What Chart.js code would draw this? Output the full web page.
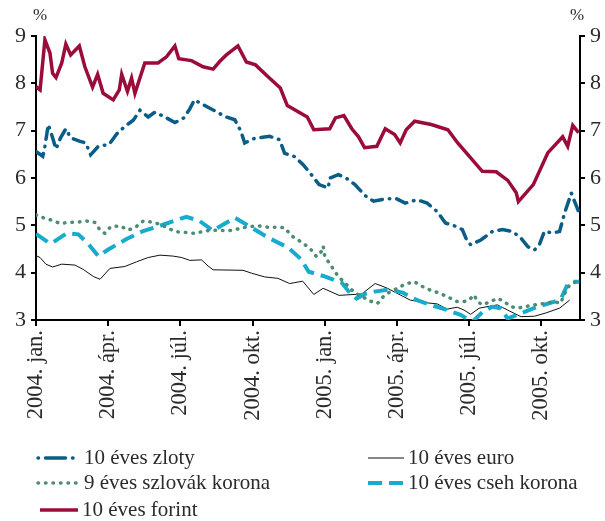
<!DOCTYPE html>
<html>
<head>
<meta charset="utf-8">
<script src="https://cdn.jsdelivr.net/npm/chart.js@4/dist/chart.umd.min.js"></script>
<style>
  html, body { margin: 0; padding: 0; background: #fff; }
  #wrap { width: 605px; height: 521px; }
</style>
</head>
<body>
<div id="wrap"><canvas id="chart" width="605" height="521"></canvas></div>
<script>
// x values are months counted from 2004 jan. (0) ; y values in %
const xTickLabels = ['2004. jan.', '2004. ápr.', '2004. júl.', '2004. okt.', '2005. jan.', '2005. ápr.', '2005. júl.', '2005. okt.'];
const yTickLabels = ['3', '4', '5', '6', '7', '8', '9'];

const forintX = [0.00, 0.17, 0.37, 0.58, 0.69, 0.83, 1.07, 1.24, 1.44, 1.80, 2.03, 2.35, 2.56, 2.79, 3.21, 3.46, 3.56, 3.80, 3.97, 4.11, 4.52, 5.07, 5.42, 5.77, 5.93, 6.46, 6.94, 7.36, 7.63, 7.91, 8.39, 8.74, 9.12, 9.64, 10.15, 10.44, 11.27, 11.54, 12.20, 12.44, 12.79, 13.12, 13.40, 13.65, 14.16, 14.51, 14.90, 15.13, 15.38, 15.73, 16.42, 17.11, 17.52, 18.54, 19.12, 19.60, 19.95, 20.04, 20.66, 21.26, 21.88, 22.09, 22.30, 22.54];
const forintY = [7.93, 7.86, 8.92, 8.64, 8.21, 8.12, 8.43, 8.83, 8.60, 8.79, 8.35, 7.92, 8.19, 7.79, 7.65, 7.86, 8.19, 7.83, 8.11, 7.79, 8.43, 8.43, 8.56, 8.79, 8.52, 8.48, 8.35, 8.30, 8.46, 8.60, 8.79, 8.45, 8.39, 8.14, 7.90, 7.53, 7.29, 7.02, 7.04, 7.27, 7.32, 7.04, 6.87, 6.64, 6.67, 7.04, 6.92, 6.74, 7.02, 7.20, 7.13, 7.02, 6.74, 6.14, 6.13, 5.95, 5.69, 5.50, 5.86, 6.53, 6.87, 6.67, 7.11, 6.96];

const zlotyX = [0.00, 0.28, 0.37, 0.51, 0.69, 0.83, 1.02, 1.24, 1.44, 1.80, 2.07, 2.27, 2.59, 3.04, 3.37, 3.69, 4.04, 4.32, 4.66, 4.94, 5.35, 5.77, 6.14, 6.39, 6.58, 7.01, 7.50, 7.84, 8.26, 8.51, 8.67, 9.09, 9.71, 10.12, 10.33, 10.75, 11.10, 11.44, 11.76, 12.14, 12.21, 12.56, 12.88, 13.25, 13.67, 14.02, 14.51, 14.98, 15.34, 15.83, 16.25, 16.67, 17.01, 17.43, 17.71, 17.92, 18.06, 18.48, 18.96, 19.38, 19.80, 20.15, 20.43, 20.71, 20.91, 21.12, 21.47, 21.75, 21.96, 22.24, 22.51, 22.57];
const zlotyY = [6.56, 6.46, 6.67, 7.13, 6.85, 6.61, 6.85, 7.04, 6.85, 6.78, 6.74, 6.49, 6.67, 6.71, 6.94, 7.09, 7.22, 7.43, 7.29, 7.39, 7.29, 7.17, 7.27, 7.46, 7.65, 7.53, 7.40, 7.30, 7.23, 6.99, 6.74, 6.84, 6.88, 6.81, 6.52, 6.45, 6.28, 6.07, 5.86, 5.79, 6.00, 6.07, 6.00, 5.86, 5.63, 5.51, 5.56, 5.56, 5.47, 5.54, 5.47, 5.29, 5.05, 4.98, 4.91, 4.66, 4.59, 4.69, 4.87, 4.91, 4.87, 4.73, 4.55, 4.48, 4.59, 4.87, 4.84, 4.87, 5.26, 5.68, 5.33, 5.25];

const euroX = [0.00, 0.17, 0.41, 0.69, 1.07, 1.62, 1.96, 2.38, 2.66, 3.07, 3.69, 4.18, 4.66, 5.15, 5.70, 6.05, 6.39, 6.88, 7.15, 7.36, 8.60, 8.95, 9.50, 10.05, 10.54, 11.08, 11.54, 11.93, 12.59, 13.53, 14.09, 14.56, 15.13, 15.55, 16.11, 16.67, 17.08, 17.50, 17.78, 18.06, 18.41, 18.83, 19.17, 19.59, 20.15, 20.71, 21.19, 21.75, 22.17];
const euroY = [4.36, 4.32, 4.18, 4.12, 4.18, 4.16, 4.07, 3.92, 3.86, 4.09, 4.13, 4.23, 4.32, 4.37, 4.35, 4.32, 4.26, 4.27, 4.14, 4.06, 4.05, 3.99, 3.91, 3.88, 3.77, 3.82, 3.54, 3.67, 3.52, 3.55, 3.77, 3.68, 3.53, 3.42, 3.37, 3.34, 3.23, 3.27, 3.21, 3.12, 3.25, 3.29, 3.32, 3.21, 3.07, 3.08, 3.15, 3.25, 3.42];

const skkX = [0.00, 0.30, 0.65, 1.00, 1.34, 1.76, 2.10, 2.45, 2.66, 2.86, 3.10, 3.49, 3.83, 4.11, 4.45, 4.80, 5.17, 5.56, 5.90, 6.25, 6.60, 6.94, 7.29, 7.63, 8.05, 8.46, 8.81, 9.22, 9.64, 9.99, 10.33, 10.61, 10.95, 11.37, 11.65, 11.86, 11.93, 12.00, 12.28, 12.49, 12.70, 12.98, 13.25, 13.60, 13.88, 14.19, 14.44, 14.72, 15.06, 15.34, 15.72, 16.04, 16.39, 16.80, 17.22, 17.50, 17.78, 17.99, 18.20, 18.34, 18.55, 18.89, 19.17, 19.45, 19.73, 20.01, 20.29, 20.71, 21.12, 21.54, 21.79, 21.96, 22.17, 22.44, 22.57];
const skkY = [5.22, 5.16, 5.11, 5.04, 5.06, 5.07, 5.09, 5.06, 4.90, 4.83, 4.97, 4.99, 4.90, 4.95, 5.09, 5.07, 5.02, 4.92, 4.86, 4.85, 4.83, 4.87, 4.90, 4.89, 4.89, 4.93, 4.97, 4.99, 4.96, 4.96, 4.95, 4.78, 4.67, 4.52, 4.34, 4.45, 4.56, 4.34, 4.13, 3.97, 3.85, 3.71, 3.57, 3.48, 3.40, 3.35, 3.50, 3.60, 3.68, 3.76, 3.81, 3.71, 3.63, 3.56, 3.46, 3.39, 3.39, 3.42, 3.53, 3.39, 3.32, 3.39, 3.46, 3.39, 3.28, 3.25, 3.28, 3.32, 3.35, 3.39, 3.35, 3.56, 3.74, 3.81, 3.85];

const czkX = [0.00, 0.51, 0.65, 1.27, 1.76, 2.17, 2.59, 3.00, 3.76, 4.45, 5.15, 5.84, 6.25, 6.80, 7.34, 8.26, 8.67, 9.64, 10.47, 11.00, 11.33, 11.99, 12.70, 13.07, 13.32, 13.65, 14.07, 14.65, 15.23, 15.83, 16.39, 17.08, 17.64, 18.13, 18.55, 18.96, 19.31, 19.59, 20.15, 20.84, 21.54, 21.82, 22.10, 22.31, 22.57];
const czkY = [4.82, 4.64, 4.62, 4.83, 4.81, 4.61, 4.35, 4.49, 4.71, 4.88, 4.99, 5.11, 5.18, 5.09, 4.89, 5.16, 5.04, 4.74, 4.53, 4.29, 4.02, 3.92, 3.79, 3.55, 3.45, 3.55, 3.60, 3.64, 3.58, 3.42, 3.32, 3.21, 3.11, 2.96, 3.17, 3.28, 3.25, 3.03, 3.14, 3.28, 3.39, 3.46, 3.77, 3.81, 3.81];

const FONT = 'Liberation Serif';
const TEXT = '#2b2b2b';
const pts = (xs, ys) => xs.map((x, i) => ({ x: x, y: ys[i] }));

const datasets = [
  { label: '10 éves forint', data: pts(forintX, forintY), borderColor: '#9b0c38', borderWidth: 3.5, borderDash: [], legendDash: [] },
  { label: '10 éves zloty', data: pts(zlotyX, zlotyY), borderColor: '#0a5d86', borderWidth: 3.5, borderDash: [11, 7, 0.5, 7], borderCapStyle: 'round', legendDash: [0.5, 7, 20, 7, 0.5, 20] },
  { label: '9 éves szlovák korona', data: pts(skkX, skkY), borderColor: '#4b8d70', borderWidth: 3.5, borderDash: [0.5, 7], borderCapStyle: 'round', legendDash: [0.5, 7] },
  { label: '10 éves cseh korona', data: pts(czkX, czkY), borderColor: '#17abcd', borderWidth: 4, borderDash: [14, 7], legendDash: [14, 7] },
  { label: '10 éves euro', data: pts(euroX, euroY), borderColor: '#111', borderWidth: 1, borderDash: [], legendDash: [] },
];
datasets.forEach(d => { d.pointRadius = 0; d.tension = 0; d.fill = false; });

// legend slots: dataset index, sample start x, sample end x, y
const legendSlots = [
  [1, 38, 80, 458], [4, 368, 404, 458],
  [2, 38, 80, 483], [3, 368, 404, 483],
  [0, 40, 78, 510],
];

const extras = {
  id: 'extras',
  afterDraw(chart) {
    const ctx = chart.ctx;
    ctx.save();
    ctx.fillStyle = TEXT;
    ctx.font = '17px "' + FONT + '"';
    ctx.textAlign = 'center';
    ctx.textBaseline = 'middle';
    ctx.fillText('%', 40, 16);
    ctx.fillText('%', 577, 16);
    ctx.font = '21px "' + FONT + '"';
    ctx.textAlign = 'left';
    legendSlots.forEach(([i, x0, x1, y]) => {
      const ds = chart.data.datasets[i];
      ctx.beginPath();
      ctx.strokeStyle = ds.borderColor;
      ctx.lineWidth = ds.borderWidth;
      ctx.lineCap = ds.borderCapStyle || 'butt';
      ctx.setLineDash(ds.legendDash);
      ctx.moveTo(x0, y);
      ctx.lineTo(x1, y);
      ctx.stroke();
      ctx.setLineDash([]);
      ctx.fillText(ds.label, x1 + 4, y);
    });
    ctx.restore();
  }
};

const yAxis = (pos, w) => ({
  position: pos,
  min: 3,
  max: 9,
  border: { display: true, color: '#000', width: 2 },
  grid: { drawOnChartArea: false, drawTicks: true, tickLength: 5, color: '#000', lineWidth: 2 },
  ticks: { stepSize: 1, color: TEXT, font: { family: FONT, size: 22 }, padding: 5,
           callback: v => yTickLabels[v - 3] },
  afterFit: s => { s.width = w; },
});

new Chart(document.getElementById('chart'), {
  type: 'line',
  data: { datasets: datasets },
  options: {
    responsive: false,
    animation: false,
    devicePixelRatio: 1,
    layout: { padding: { top: 36, left: 0, right: 0, bottom: 0 } },
    plugins: { legend: { display: false }, tooltip: { enabled: false } },
    scales: {
      x: {
        type: 'linear',
        position: 'bottom',
        min: 0,
        max: 22.6,
        border: { display: true, color: '#000', width: 2 },
        grid: { drawOnChartArea: false, tickLength: 6, color: '#000', lineWidth: 2 },
        ticks: {
          stepSize: 3, includeBounds: false, autoSkip: false,
          minRotation: 90, maxRotation: 90, padding: 4,
          color: TEXT, font: { family: FONT, size: 22.5 },
          callback: v => xTickLabels[Math.round(v / 3)],
        },
        afterFit: s => { s.height = 201; },
      },
      y: yAxis('left', 36),
      y2: yAxis('right', 25),
    },
  },
  plugins: [extras],
});
</script>
</body>
</html>
